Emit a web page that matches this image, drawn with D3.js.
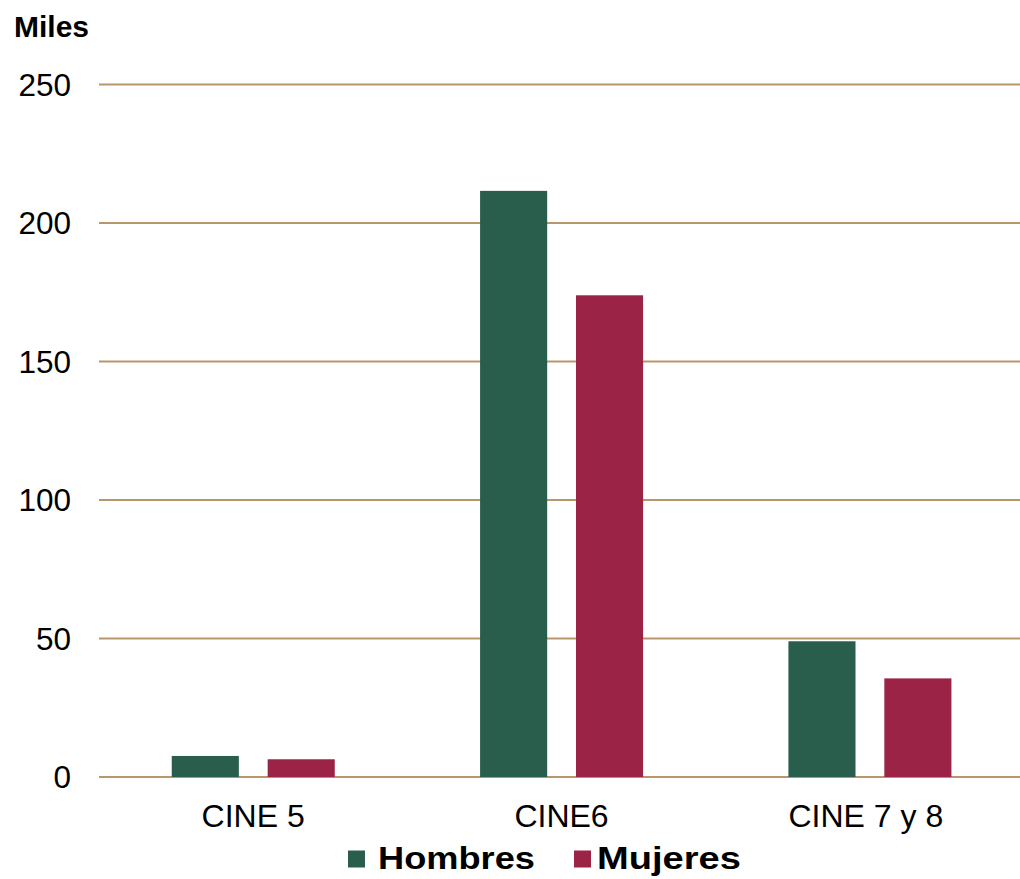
<!DOCTYPE html>
<html><head><meta charset="utf-8">
<script src="https://cdn.jsdelivr.net/npm/d3@7"></script>
<style>html,body{margin:0;padding:0;background:#fff;}svg{display:block;font-family:"Liberation Sans",Arial,sans-serif;}</style>
</head><body>
<svg id="c" width="1020" height="879"></svg>
<script>
const categories = ["CINE 5", "CINE6", "CINE 7 y 8"];
const seriesNames = ["Hombres", "Mujeres"];
const hombres = [7.6, 211.6, 49.0];
const mujeres = [6.4, 173.9, 35.6];
const yTicks = [0, 50, 100, 150, 200, 250];
const colors = ["#2a5e4c", "#9b2346"];

const svg = d3.select("#c");
const x0 = d3.scaleBand().domain(categories).range([99, 1024]).paddingInner(0).paddingOuter(0);
const y = d3.scaleLinear().domain([0, 250]).range([777, 84.5]);
const x1 = d3.scaleBand().domain(seriesNames).range([72.75, 72.75 + 163]).paddingInner(29/96.5).paddingOuter(0);

// gridlines
svg.append("g").selectAll("line").data(yTicks).join("line")
  .attr("x1", 99).attr("x2", 1020)
  .attr("y1", d => y(d)).attr("y2", d => y(d))
  .attr("stroke", "#b9966a").attr("stroke-width", 2);

// y labels
svg.append("g").selectAll("text").data(yTicks).join("text")
  .attr("x", 71).attr("y", d => y(d) + 11)
  .attr("text-anchor", "end").attr("font-size", 31.5).attr("fill", "#000")
  .text(d => d);

svg.append("text").attr("x", 14).attr("y", 37).attr("font-size", 30).attr("font-weight", "bold").text("Miles");

const data = categories.map((c, i) => ({cat: c, vals: [hombres[i], mujeres[i]]}));
const g = svg.append("g");
data.forEach(d => {
  g.selectAll(null).data(d.vals.map((v, j) => ({s: seriesNames[j], v, j}))).join("rect")
    .attr("x", e => x0(d.cat) + x1(e.s))
    .attr("width", x1.bandwidth())
    .attr("y", e => y(e.v))
    .attr("height", e => y(0) - y(e.v))
    .attr("fill", e => colors[e.j]);
});

// category labels
svg.append("g").selectAll("text").data(categories).join("text")
  .attr("x", d => x0(d) + x0.bandwidth()/2 - (d === "CINE 7 y 8" ? 4 : 0)).attr("y", 827)
  .attr("text-anchor", "middle").attr("font-size", 32).text(d => d);

// legend
const leg = [{name: "Hombres", sx: 348, tx: 378, w: 157}, {name: "Mujeres", sx: 574, tx: 597, w: 144}];
leg.forEach((l, i) => {
  svg.append("rect").attr("x", l.sx).attr("y", 850.5).attr("width", 17).attr("height", 17).attr("fill", colors[i]);
  svg.append("text").attr("x", l.tx).attr("y", 869).attr("font-size", 31).attr("font-weight", "bold")
    .attr("textLength", l.w).attr("lengthAdjust", "spacingAndGlyphs").text(l.name);
});
</script>
</body></html>
